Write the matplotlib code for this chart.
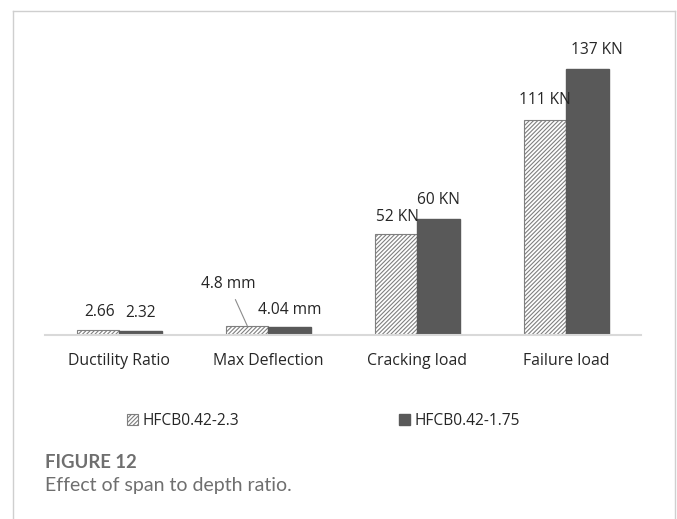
import numpy as np
import matplotlib.pyplot as plt
from matplotlib.patches import Patch
from matplotlib.lines import Line2D

categories = ['Ductility Ratio', 'Max Deflection', 'Cracking load', 'Failure load']
series_names = ['HFCB0.42-2.3', 'HFCB0.42-1.75']
hfcb_23 = [2.66, 4.8, 52, 111]
hfcb_175 = [2.32, 4.04, 60, 137]
labels_23 = ['2.66', '4.8 mm', '52 KN', '111 KN']
labels_175 = ['2.32', '4.04 mm', '60 KN', '137 KN']

# label offsets from the top centre of each bar, in pixels
offs_23 = [(1, 18), (-19, 42), (1, 17), (0, 20)]
offs_175 = [(0, 18), (0, 17), (0, 19), (9, 19)]

plt.rcParams['font.family'] = ['Open Sans', 'DejaVu Sans']
plt.rcParams['hatch.color'] = '#595959'
plt.rcParams['hatch.linewidth'] = 0.8

fig = plt.figure(figsize=(6.77, 5.19), dpi=100)
ax = fig.add_axes([0.0665, 0.3545, 0.880, 0.5607])

x = np.arange(len(categories))
w = 0.285
b1 = ax.bar(x - w / 2, hfcb_23, w, facecolor='white', edgecolor='#7f7f7f',
            hatch='////////', linewidth=0.8)
b2 = ax.bar(x + w / 2, hfcb_175, w, facecolor='#595959', edgecolor='#595959')

ax.set_xlim(-0.5, 3.5)
ax.set_ylim(0, 150)
for s in ['top', 'right', 'left']:
    ax.spines[s].set_visible(False)
ax.spines['bottom'].set_color('#d9d9d9')
ax.spines['bottom'].set_linewidth(1.5)
ax.set_yticks([])
ax.set_xticks(x)
ax.set_xticklabels(categories, fontsize=11.4, color='#262626')
ax.tick_params(axis='x', length=0, pad=13)

for bars, vals, labs, offs in [(b1, hfcb_23, labels_23, offs_23),
                               (b2, hfcb_175, labels_175, offs_175)]:
    for bar, v, lab, (dx, dy) in zip(bars, vals, labs, offs):
        cx = bar.get_x() + bar.get_width() / 2
        if lab == '4.8 mm':
            # leader line from the label down to the bar
            ax.annotate(lab, (cx, v), xytext=(dx, dy), textcoords='offset pixels',
                        ha='center', va='center', fontsize=11.2, color='#262626',
                        arrowprops=dict(arrowstyle='-', color='#8c8c8c', lw=0.8,
                                        shrinkA=4, shrinkB=0))
        else:
            ax.annotate(lab, (cx, v), xytext=(dx, dy), textcoords='offset pixels',
                        ha='center', va='center', fontsize=11.2, color='#262626')

handles = [Patch(facecolor='white', edgecolor='#7f7f7f', hatch='////////', linewidth=0.8),
           Patch(facecolor='#595959', edgecolor='#595959')]
fig.legend(handles, series_names, loc='center', bbox_to_anchor=(0.478, 0.189),
           ncol=2, frameon=False, fontsize=11.2, handlelength=0.7, handleheight=0.7,
           handletextpad=0.3, columnspacing=10.3, labelcolor='#262626')

# frame around the figure panel
top = 1 - 11 / 519
fig.add_artist(Line2D([13 / 677, 13 / 677], [0, top], color='#cfcfcf', lw=1))
fig.add_artist(Line2D([13 / 677, 675 / 677], [top, top], color='#cfcfcf', lw=1))
fig.add_artist(Line2D([675 / 677, 675 / 677], [0, top], color='#cfcfcf', lw=1))

fig.text(45 / 677, 1 - 462 / 519, 'FIGURE 12', family='Lato', weight='bold',
         fontsize=13.3, color='#6f6f6f', va='center')
fig.text(45 / 677, 1 - 486 / 519, 'Effect of span to depth ratio.', family='Lato',
         fontsize=14, color='#6f6f6f', va='center')

fig.savefig('out.png', dpi=100)
